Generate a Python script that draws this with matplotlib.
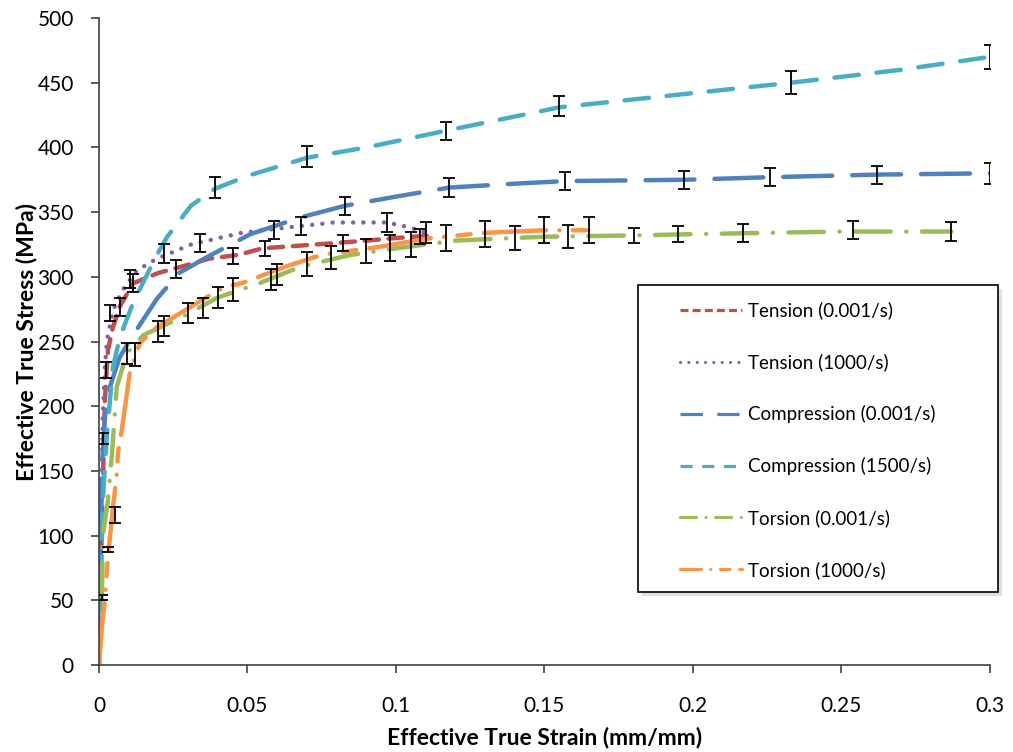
import matplotlib
matplotlib.use("Agg")
import matplotlib.pyplot as plt
from matplotlib.patches import Rectangle
from matplotlib.lines import Line2D

plt.rcParams['font.family'] = ['Lato', 'DejaVu Sans']

# Effective true strain / stress curves
tens_slow_x = [0, 0.0005, 0.001, 0.002, 0.003, 0.0047, 0.007, 0.0115, 0.02, 0.028, 0.037,
               0.047, 0.055, 0.067, 0.079, 0.09, 0.1, 0.112]
tens_slow_y = [0, 60, 110, 205, 243, 261, 277, 295, 303, 308, 314, 317, 322, 324, 326, 328, 330, 332]

tens_fast_x = [0, 0.0005, 0.001, 0.0013, 0.002, 0.0027, 0.0047, 0.008, 0.0128, 0.0195, 0.031,
               0.048, 0.063, 0.079, 0.097, 0.105, 0.11]
tens_fast_y = [0, 70, 153, 192, 230, 251, 274, 290, 305, 314, 325, 334, 338, 342, 342, 338, 334]

comp_slow_x = [0, 0.0005, 0.001, 0.002, 0.0037, 0.007, 0.0115, 0.0195, 0.027, 0.037, 0.051,
               0.068, 0.083, 0.1, 0.118, 0.14, 0.157, 0.197, 0.226, 0.262, 0.3]
comp_slow_y = [0, 70, 153, 192, 215, 238, 255, 283, 303, 316, 333, 346, 355, 362, 369, 372,
               374, 375, 377, 379, 380]

comp_fast_x = [0, 0.0005, 0.0013, 0.002, 0.0027, 0.0047, 0.007, 0.0115, 0.0195, 0.023, 0.031,
               0.039, 0.05, 0.07, 0.09, 0.117, 0.155, 0.2, 0.233, 0.27, 0.3]
comp_fast_y = [0, 50, 127, 153, 179, 230, 253, 280, 317, 331, 355, 368, 378, 392, 400, 413,
               431, 442, 450, 460, 470]

tors_slow_x = [0, 0.0005, 0.001, 0.0013, 0.003, 0.0044, 0.006, 0.0094, 0.015, 0.028, 0.04,
               0.054, 0.068, 0.085, 0.1, 0.12, 0.15, 0.18, 0.2, 0.25, 0.287]
tors_slow_y = [0, 20, 50, 100, 127, 164, 215, 241, 255, 269, 284, 295, 308, 317, 322, 328,
               331, 332, 333, 335, 335]

tors_fast_x = [0, 0.001, 0.002, 0.003, 0.0045, 0.006, 0.0064, 0.0077, 0.0104, 0.0138, 0.0195,
               0.031, 0.042, 0.048, 0.063, 0.075, 0.094, 0.112, 0.13, 0.15, 0.165]
tors_fast_y = [0, 30, 50, 83, 117, 148, 164, 182, 226, 249, 261, 277, 292, 295, 308, 317, 323,
               330, 334, 336, 336]

# error bars (strain, stress, +/- error)
tens_slow_ex = [0.0023, 0.007, 0.0115, 0.026, 0.045, 0.056, 0.082, 0.108]
tens_slow_ey = [228, 277, 295, 306, 316, 322, 326, 331]
tens_slow_ee = [6, 7, 7, 7, 6, 6, 6, 6]

tens_fast_ex = [0.0037, 0.0104, 0.022, 0.034, 0.059, 0.068, 0.097, 0.11]
tens_fast_ey = [272, 298, 318, 326, 336, 339, 342, 334]
tens_fast_ee = [6, 7, 7, 7, 7, 7, 7, 8]

comp_slow_ex = [0.0015, 0.083, 0.118, 0.157, 0.197, 0.226, 0.262, 0.3]
comp_slow_ey = [175, 355, 369, 374, 375, 377, 379, 380]
comp_slow_ee = [4, 7, 7, 7, 7, 7, 7, 8]

comp_fast_ex = [0.039, 0.07, 0.117, 0.155, 0.233, 0.3]
comp_fast_ey = [369, 393, 413, 432, 450, 470]
comp_fast_ee = [8, 8, 7, 8, 9, 9]

tors_slow_ex = [0.001, 0.003, 0.0094, 0.022, 0.04, 0.06, 0.09, 0.14, 0.158, 0.18, 0.195,
                0.217, 0.254, 0.287]
tors_slow_ey = [52, 89, 241, 262, 284, 302, 320, 330, 331, 332, 333, 334, 336, 335]
tors_slow_ee = [2, 2, 8, 8, 8, 8, 9, 9, 9, 6, 6, 7, 7, 7]

tors_fast_ex = [0.0054, 0.012, 0.02, 0.03, 0.035, 0.045, 0.058, 0.07, 0.078, 0.098, 0.105,
                0.117, 0.13, 0.15, 0.165]
tors_fast_ey = [116, 240, 258, 272, 276, 290, 298, 310, 315, 322, 325, 330, 333, 336, 336]
tors_fast_ee = [6, 9, 8, 8, 8, 9, 8, 9, 9, 10, 10, 10, 10, 10, 10]

labels = ["Tension (0.001/s)", "Tension (1000/s)", "Compression (0.001/s)",
          "Compression (1500/s)", "Torsion (0.001/s)", "Torsion (1000/s)"]
colors = ["#C0504D", "#8064A2", "#4F81BD", "#4BACC6", "#9BBB59", "#F79646"]
dashes = [(3.2, 2.2), (0.01, 2.3), (11, 4.5), (5.5, 4), (8, 3.5, 0.01, 3.5), (14, 3, 0.01, 3, 3, 3)]
# the legend keys use a finer version of the same patterns
key_dashes = [(2.5, 1.3), (0.01, 2.6), (7, 4.5), (3.8, 3), (5, 3, 0.01, 3), (6.5, 3, 0.01, 3, 3, 3)]

series = [
    (tens_slow_x, tens_slow_y, tens_slow_ex, tens_slow_ey, tens_slow_ee),
    (tens_fast_x, tens_fast_y, tens_fast_ex, tens_fast_ey, tens_fast_ee),
    (comp_slow_x, comp_slow_y, comp_slow_ex, comp_slow_ey, comp_slow_ee),
    (comp_fast_x, comp_fast_y, comp_fast_ex, comp_fast_ey, comp_fast_ee),
    (tors_slow_x, tors_slow_y, tors_slow_ex, tors_slow_ey, tors_slow_ee),
    (tors_fast_x, tors_fast_y, tors_fast_ex, tors_fast_ey, tors_fast_ee),
]

fig = plt.figure(figsize=(10.13, 7.52), dpi=100)
ax = fig.add_axes([0.0977, 0.1157, 0.8796, 0.8603])

handles = []
for i, (x, y, ex, ey, ee) in enumerate(series):
    ax.plot(x, y, color=colors[i], lw=3.2, dashes=dashes[i], dash_capstyle='round',
            solid_capstyle='round', zorder=2)
    ax.errorbar(ex, ey, yerr=ee, fmt='none', ecolor='black', elinewidth=1.3,
                capsize=4, capthick=1.3, zorder=3)
    cap = 'round' if i in (1, 4, 5) else 'butt'
    handles.append(Line2D([], [], color=colors[i], lw=2.3, dashes=key_dashes[i],
                          dash_capstyle=cap))

ax.set_xlim(0, 0.3)
ax.set_ylim(0, 500)
ax.set_xticks([0, 0.05, 0.1, 0.15, 0.2, 0.25, 0.3])
ax.set_xticklabels(["0", "0.05", "0.1", "0.15", "0.2", "0.25", "0.3"])
ax.set_yticks(range(0, 501, 50))

for s in ['top', 'right']:
    ax.spines[s].set_visible(False)
for s in ['left', 'bottom']:
    ax.spines[s].set_color('#404040')
    ax.spines[s].set_linewidth(1.2)
ax.tick_params(direction='out', length=6, width=1.2, color='#404040', labelsize=15)
ax.tick_params(axis='x', pad=16)
ax.tick_params(axis='y', pad=12)

ax.set_xlabel("Effective True Strain (mm/mm)", fontsize=16.5, fontweight='bold', labelpad=8)
ax.set_ylabel("Effective True Stress (MPa)", fontsize=16.5, fontweight='bold', labelpad=0)

# legend box (drawn separately so the padding matches the original)
shadow = Rectangle((0.609, 0.107), 0.404, 0.4745, transform=ax.transAxes,
                   facecolor='0.88', edgecolor='none', clip_on=False, zorder=4)
box = Rectangle((0.605, 0.113), 0.404, 0.4745, transform=ax.transAxes,
                facecolor='white', edgecolor='black', lw=1.2, clip_on=False, zorder=5)
ax.add_patch(shadow)
ax.add_patch(box)

leg = ax.legend(handles, labels, loc='upper left', bbox_to_anchor=(0.652, 0.562),
                fontsize=13.5, labelspacing=1.81, handlelength=3.3, handletextpad=0.32,
                borderpad=0, borderaxespad=0, frameon=False)
leg.set_zorder(6)

fig.savefig("out.png", dpi=100)
